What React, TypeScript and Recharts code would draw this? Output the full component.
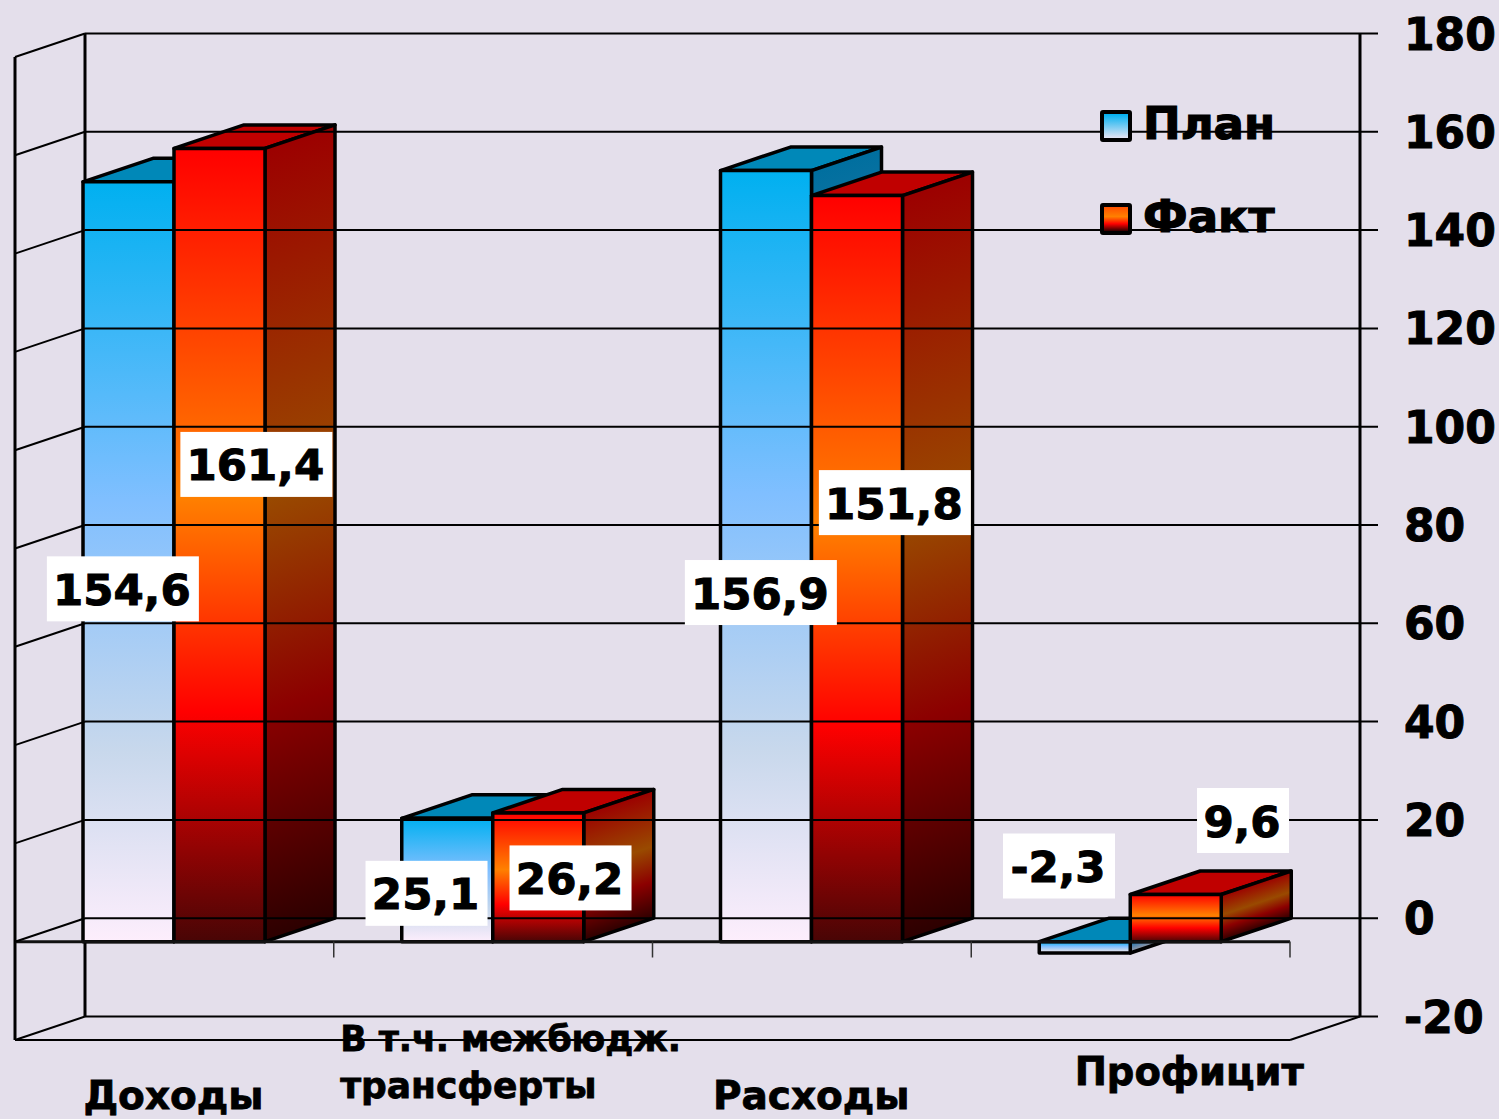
import React from "react";
import { ComposedChart, Bar, Line, XAxis, YAxis, Legend, LabelList, ReferenceLine } from "recharts";

const categories = ["Доходы", "В т.ч. межбюдж. трансферты", "Расходы", "Профицит"];
const planValues = [154.6, 25.1, 156.9, -2.3];
const factValues = [161.4, 26.2, 151.8, 9.6];
const yTicks = [-20, 0, 20, 40, 60, 80, 100, 120, 140, 160, 180];

const categoryLines = [["Доходы"], ["В т.ч. межбюдж.", "трансферты"], ["Расходы"], ["Профицит"]];
const categoryLabelPos = [
  { dx: -91, y: 1109, sizes: [39] },
  { dx: -153, y: 1051, sizes: [34.7, 36] },
  { dx: -99, y: 1109, sizes: [39] },
  { dx: -56, y: 1085, sizes: [38.5] },
];
const planLabelPos = [
  { dx: -51.5, dy: 407 },
  { dx: -66.6, dy: 75 },
  { dx: -51, dy: 422 },
  { dx: -71.6, dy: -87 },
];
const factLabelPos = [
  { dx: 82, dy: 316 },
  { dx: 77.4, dy: 65 },
  { dx: 83, dy: 307 },
  { dx: 112.4, dy: -74 },
];

const data = categories.map((name, i) => ({ name, plan: planValues[i], fact: factValues[i] }));

const BG = "#e4dfeb";
const FONT = "'DejaVu Sans', sans-serif";
const DX = 70;
const DY = 23.5;
const FRONT_LEFT = 15;
const FRONT_RIGHT = 1290;
const FRONT_TOP = 57;
const FRONT_BOTTOM = 1040;
const ZERO_Y = 941.5;
const BAND = (FRONT_RIGHT - FRONT_LEFT) / categories.length;

const planSideStops = [
  [0, "#006f9f"],
  [0.42, "#4f82ad"],
  [0.75, "#7f92a8"],
  [1, "#a39ca8"],
];
const factSideStops = [
  [0, "#9c0000"],
  [0.44, "#994a00"],
  [0.71, "#8c0000"],
  [1, "#2c0000"],
];

function Box3D({ x, y, width, height, index, side, front, topColor, series }: any) {
  const top = Math.min(y, y + height);
  const h = Math.abs(height);
  const r = x + width;
  const id = `side-${series}-${index}`;
  const len = Math.hypot(DX, DY);
  const x1 = r + DX;
  const y1 = top - DY;
  const reach = (h * DX) / len;
  return (
    <g stroke="#000" strokeWidth={3.5} strokeLinejoin="round">
      <defs>
        <linearGradient
          id={id}
          gradientUnits="userSpaceOnUse"
          x1={x1}
          y1={y1}
          x2={x1 + (DY / len) * reach}
          y2={y1 + (DX / len) * reach}
        >
          {side.map(([o, c]: any) => (
            <stop key={o} offset={o} stopColor={c} />
          ))}
        </linearGradient>
      </defs>
      <polygon
        points={`${x},${top} ${x + DX},${top - DY} ${r + DX},${top - DY} ${r},${top}`}
        fill={topColor}
      />
      <polygon
        points={`${r},${top} ${r + DX},${top - DY} ${r + DX},${top + h - DY} ${r},${top + h}`}
        fill={`url(#${id})`}
      />
      <rect x={x} y={top} width={width} height={h} fill={front} />
    </g>
  );
}

const PlanShape = (p: any) => (
  <Box3D {...p} series="plan" side={planSideStops} front="url(#planFront)" topColor="#0088b8" />
);
const FactShape = (p: any) => (
  <Box3D {...p} series="fact" side={factSideStops} front="url(#factFront)" topColor="#c00000" />
);

const makeValueLabel = (positions: { dx: number; dy: number }[]) => (props: any) => {
  const { x, y, value, index } = props;
  const text = String(value).replace(".", ",");
  const digits = text.replace(/[^0-9]/g, "").length;
  const w = digits * 30 + 32 + (value < 0 ? 20 : 0);
  const cx = x + positions[index].dx;
  const cy = y + positions[index].dy;
  return (
    <g>
      <rect x={cx - w / 2} y={cy - 32.5} width={w} height={65} fill="#fff" />
      <text
        x={cx - 1}
        y={cy + 16}
        textAnchor="middle"
        fontFamily={FONT}
        fontWeight="bold"
        fontSize={43.5}
        fill="#000"
        stroke="#000"
        strokeWidth={1}
      >
        {text}
      </text>
    </g>
  );
};

const YTick = ({ y, payload }: any) => {
  const backY = y - DY;
  return (
    <g>
      <line x1={FRONT_LEFT} y1={y} x2={FRONT_LEFT + DX} y2={backY} stroke="#000" strokeWidth={2} />
      <line x1={FRONT_LEFT + DX} y1={backY} x2={1378} y2={backY} stroke="#000" strokeWidth={2} />
      <text
        x={1404}
        y={backY + 16}
        fontFamily={FONT}
        fontWeight="bold"
        fontSize={44}
        fill="#000"
        stroke="#000"
        strokeWidth={1}
      >
        {payload.value}
      </text>
    </g>
  );
};

const XTick = ({ x, index }: any) => {
  const pos = categoryLabelPos[index];
  const lines = categoryLines[index];
  const mark = x + BAND / 2;
  return (
    <g>
      <line x1={mark} y1={ZERO_Y} x2={mark} y2={ZERO_Y + 16} stroke="#333" strokeWidth={1.5} />
      {lines.map((line, i) => (
        <text
          key={line}
          x={x + pos.dx}
          y={pos.y + i * 47}
          fontFamily={FONT}
          fontWeight="bold"
          fontSize={pos.sizes[i]}
          fill="#000"
          stroke="#000"
          strokeWidth={0.8}
        >
          {line}
        </text>
      ))}
    </g>
  );
};

const legendItems = [
  { label: "План", fill: "linear-gradient(#00b0f0, #e4e4f4)", top: 0 },
  { label: "Факт", fill: "linear-gradient(#ff5000, #ff8000 40%, #ff0000 70%, #300000)", top: 93 },
];

const LegendBox = () => (
  <div style={{ position: "relative", width: 200, height: 140 }}>
    {legendItems.map((item) => (
      <div key={item.label} style={{ position: "absolute", left: 0, top: item.top, height: 30 }}>
        <div
          style={{
            position: "absolute",
            left: 0,
            top: 0,
            width: 24,
            height: 24,
            border: "4px solid #000",
            borderRadius: 3,
            background: item.fill,
          }}
        />
        <div
          style={{
            position: "absolute",
            left: 43,
            top: -12,
            fontFamily: FONT,
            fontWeight: "bold",
            fontSize: 45,
            lineHeight: "52px",
            color: "#000",
            WebkitTextStroke: "1.2px #000",
          }}
        >
          {item.label}
        </div>
      </div>
    ))}
  </div>
);

export default function App() {
  return (
    <div style={{ position: "absolute", left: 0, top: 0, width: 1499, height: 1119, background: BG, overflow: "hidden" }}>
      <ComposedChart
        width={1499}
        height={1119}
        data={data}
        barGap={0}
        barSize={91}
        margin={{ top: FRONT_TOP, right: 200, bottom: 0, left: FRONT_LEFT }}
      >
        <defs>
          <linearGradient id="planFront" x1="0" y1="0" x2="0" y2="1">
            <stop offset="0" stopColor="#00b0f0" />
            <stop offset="0.42" stopColor="#80bfff" />
            <stop offset="0.75" stopColor="#c8d8ec" />
            <stop offset="1" stopColor="#fdeefc" />
          </linearGradient>
          <linearGradient id="factFront" x1="0" y1="0" x2="0" y2="1">
            <stop offset="0" stopColor="#ff0000" />
            <stop offset="0.44" stopColor="#ff8000" />
            <stop offset="0.71" stopColor="#ff0000" />
            <stop offset="1" stopColor="#480505" />
          </linearGradient>
        </defs>
        <XAxis
          dataKey="name"
          height={79}
          axisLine={{ stroke: "#000", strokeWidth: 2 }}
          tickLine={false}
          tick={<XTick />}
          interval={0}
        />
        <YAxis
          orientation="right"
          width={9}
          domain={[-20, 180]}
          ticks={yTicks}
          axisLine={false}
          tickLine={false}
          tick={<YTick />}
          interval={0}
        />
        <g stroke="#000" strokeWidth={3}>
          <line x1={FRONT_LEFT} y1={FRONT_TOP} x2={FRONT_LEFT} y2={FRONT_BOTTOM} />
          <line x1={FRONT_LEFT + DX} y1={FRONT_TOP - DY} x2={FRONT_LEFT + DX} y2={FRONT_BOTTOM - DY} />
          <line x1={FRONT_RIGHT + DX} y1={FRONT_TOP - DY} x2={FRONT_RIGHT + DX} y2={FRONT_BOTTOM - DY} />
          <line x1={FRONT_RIGHT} y1={FRONT_BOTTOM} x2={FRONT_RIGHT + DX} y2={FRONT_BOTTOM - DY} strokeWidth={2} />
        </g>
        <ReferenceLine y={0} stroke="#111" strokeWidth={3} />
        <Bar dataKey="plan" shape={PlanShape} isAnimationActive={false} />
        <Bar dataKey="fact" shape={FactShape} isAnimationActive={false} />
        <Line dataKey="plan" stroke="none" dot={false} activeDot={false} isAnimationActive={false}>
          <LabelList dataKey="plan" content={makeValueLabel(planLabelPos)} />
        </Line>
        <Line dataKey="fact" stroke="none" dot={false} activeDot={false} isAnimationActive={false}>
          <LabelList dataKey="fact" content={makeValueLabel(factLabelPos)} />
        </Line>
        <Legend
          layout="vertical"
          align="center"
          verticalAlign="middle"
          content={<LegendBox />}
          wrapperStyle={{ left: 1100, top: 110, width: 200, height: 140, margin: 0 }}
        />
      </ComposedChart>
    </div>
  );
}
